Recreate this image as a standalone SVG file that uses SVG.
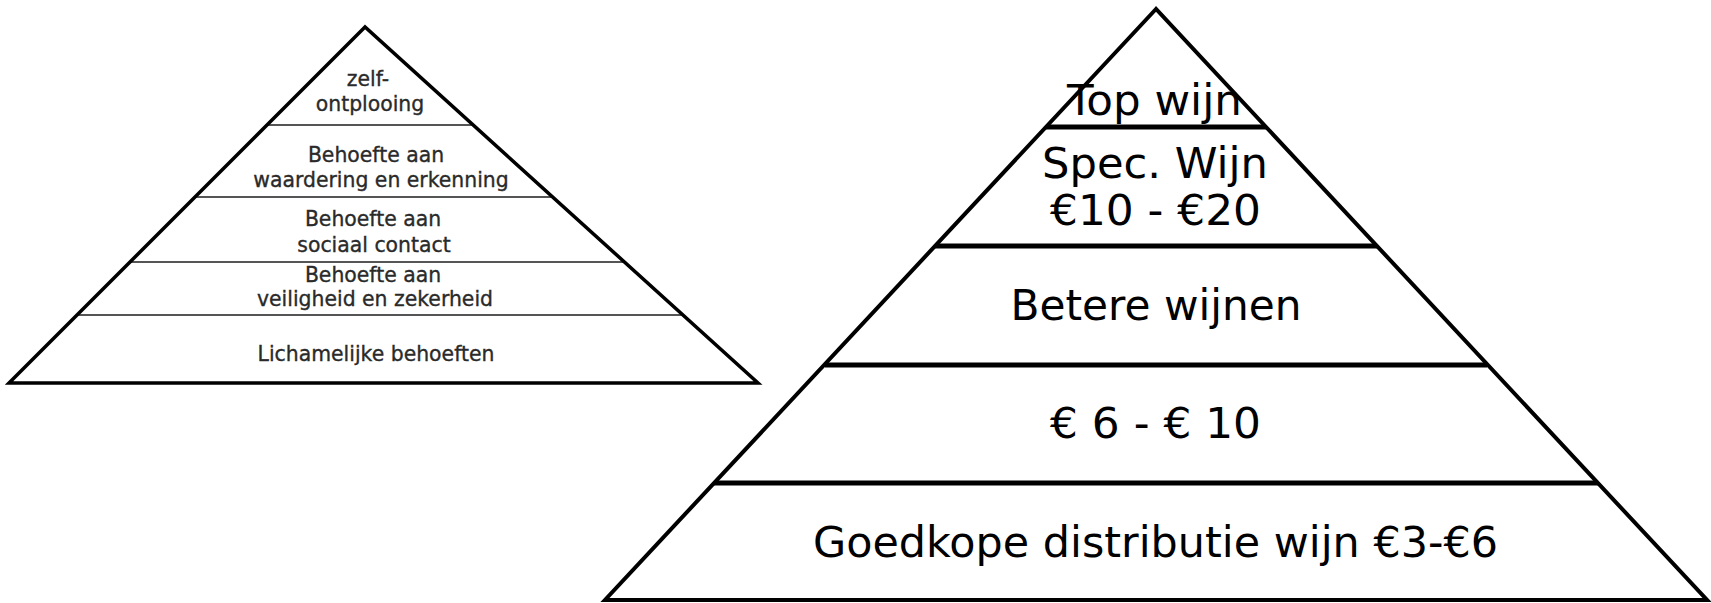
<svg xmlns="http://www.w3.org/2000/svg" width="1711" height="603" viewBox="0 0 1711 603">
<style>
.bg{fill:#fff}
.lt{font-family:"DejaVu Sans",Verdana,sans-serif;font-size:20.4px;fill:#2a2a2a;stroke:#2a2a2a;stroke-width:0.35;text-anchor:middle}
.rt{font-family:"DejaVu Sans",Verdana,sans-serif;font-size:42px;fill:#000;text-anchor:middle}
.lo{fill:none;stroke:#000;stroke-width:3.5;stroke-linejoin:miter}
.li{stroke:#555;stroke-width:2.2}
.ro{fill:none;stroke:#000;stroke-width:4;stroke-linejoin:miter}
.ri{stroke:#000;stroke-width:5}
</style>
<rect class="bg" x="0" y="0" width="1711" height="603"/>
<g id="l1"><text class="lt" x="368" y="86">zelf-</text><text class="lt" x="370" y="111">ontplooing</text></g>
<g id="l2"><text class="lt" x="376" y="162">Behoefte aan</text><text class="lt" x="381" y="187">waardering en erkenning</text></g>
<g id="l3"><text class="lt" x="373" y="226">Behoefte aan</text><text class="lt" x="374" y="252">sociaal contact</text></g>
<g id="l4"><text class="lt" x="373" y="282">Behoefte aan</text><text class="lt" x="375" y="306">veiligheid en zekerheid</text></g>
<g id="l5"><text class="lt" x="376" y="361">Lichamelijke behoeften</text></g>
<g id="left-pyramid">
<line class="li" x1="267" y1="125" x2="473" y2="125"/>
<line class="li" x1="195" y1="197" x2="553" y2="197"/>
<line class="li" x1="130" y1="262" x2="624" y2="262"/>
<line class="li" x1="77" y1="315" x2="683" y2="315"/>
<polygon class="lo" points="365,27 9,383 758,383"/>
</g>
<g id="r1"><text class="rt" x="1154.5" y="115" textLength="175" lengthAdjust="spacingAndGlyphs">Top wijn</text></g>
<g id="r2"><text class="rt" x="1155" y="178" textLength="226" lengthAdjust="spacingAndGlyphs">Spec. Wijn</text><text class="rt" x="1155.5" y="225" textLength="211" lengthAdjust="spacingAndGlyphs">€10 - €20</text></g>
<g id="r3"><text class="rt" x="1156" y="320" textLength="291" lengthAdjust="spacingAndGlyphs">Betere wijnen</text></g>
<g id="r4"><text class="rt" x="1155.5" y="438" textLength="211" lengthAdjust="spacingAndGlyphs">€ 6 - € 10</text></g>
<g id="r5"><text class="rt" x="1155.5" y="557" textLength="685" lengthAdjust="spacingAndGlyphs">Goedkope distributie wijn €3-€6</text></g>
<g id="connectors">
<line class="ri" x1="1046" y1="127" x2="1266" y2="127"/>
<line class="ri" x1="935" y1="246" x2="1377" y2="246"/>
<line class="ri" x1="825" y1="365" x2="1487" y2="365"/>
<line class="ri" x1="714" y1="483" x2="1598" y2="483"/>
</g>
<g id="right-pyramid">
<polygon class="ro" points="1156,9 605,600 1707,600"/>
</g>
</svg>
